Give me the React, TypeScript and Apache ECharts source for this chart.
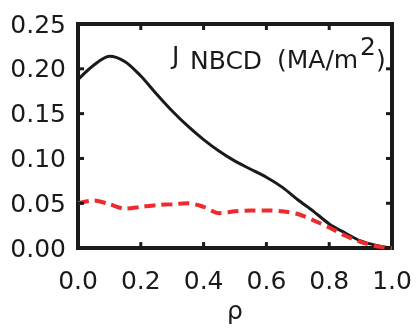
import React, { useEffect, useRef } from "react";
import * as echarts from "echarts";

const rho = [0, 0.05, 0.1, 0.15, 0.2, 0.25, 0.3, 0.35, 0.4, 0.45, 0.5, 0.55, 0.6, 0.65, 0.7, 0.75, 0.8, 0.85, 0.9, 0.95, 1.0];
const jNbcdTotal = [0.188, 0.204, 0.214, 0.208, 0.192, 0.172, 0.153, 0.136, 0.121, 0.108, 0.097, 0.088, 0.079, 0.068, 0.054, 0.041, 0.027, 0.017, 0.008, 0.003, 0.0];
const jNbcdRed = [0.05, 0.053, 0.049, 0.044, 0.046, 0.048, 0.049, 0.05, 0.046, 0.039, 0.041, 0.042, 0.042, 0.041, 0.038, 0.031, 0.023, 0.014, 0.007, 0.002, 0.0];
const xTickValues = [0.2, 0.4, 0.6, 0.8];
const yTickValues = [0.05, 0.1, 0.15, 0.2];
const xTickLabels = ["0.0", "0.2", "0.4", "0.6", "0.8", "1.0"];
const yTickLabels = ["0.00", "0.05", "0.10", "0.15", "0.20", "0.25"];

const FONT = "DejaVu Sans";
const INK = "#1a1a1a";
const X_MIN = 0, X_MAX = 1, Y_MIN = 0, Y_MAX = 0.25;

export default function App() {
  const ref = useRef<HTMLDivElement>(null);
  useEffect(() => {
    if (!ref.current) return;
    const chart = echarts.init(ref.current, undefined, { renderer: "svg" });
    const tickData = [
      ...xTickValues.map((v) => [v, Y_MIN, 0]),
      ...yTickValues.map((v) => [X_MIN, v, 1]),
    ];
    const TL = 6;
    chart.setOption({
      animation: false,
      grid: {
        left: 78, right: 27, top: 24, bottom: 67,
        show: true, borderColor: INK, borderWidth: 4, backgroundColor: "transparent",
      },
      xAxis: {
        type: "value", min: X_MIN, max: X_MAX, interval: 0.2,
        splitLine: { show: false },
        axisLine: { show: false },
        axisTick: { show: false },
        name: "ρ", nameLocation: "middle", nameGap: 44,
        nameTextStyle: { fontFamily: FONT, fontSize: 25, color: INK },
        axisLabel: {
          show: true, margin: 20, fontFamily: FONT, fontSize: 25, color: INK,
          formatter: (v: number) => xTickLabels[Math.round(v / 0.2)] ?? "",
        },
      },
      yAxis: {
        type: "value", min: Y_MIN, max: Y_MAX, interval: 0.05,
        splitLine: { show: false },
        axisLine: { show: false },
        axisTick: { show: false },
        axisLabel: {
          show: true, margin: 12, fontFamily: FONT, fontSize: 25, color: INK,
          formatter: (v: number) => yTickLabels[Math.round(v / 0.05)] ?? "",
        },
      },
      graphic: [
        { type: "text", left: 172, top: 43, style: { text: "J", fontFamily: FONT, fontSize: 25, fill: INK } },
        { type: "text", left: 190, top: 48, style: { text: "NBCD", fontFamily: FONT, fontSize: 25, fill: INK } },
        { type: "text", left: 277, top: 47, style: { text: "(MA/m", fontFamily: FONT, fontSize: 25, fill: INK } },
        { type: "text", left: 360, top: 34, style: { text: "2", fontFamily: FONT, fontSize: 25, fill: INK } },
        { type: "text", left: 376, top: 47, style: { text: ")", fontFamily: FONT, fontSize: 25, fill: INK } },
      ],
      series: [
        {
          type: "line",
          data: rho.map((r, i) => [r, jNbcdTotal[i]]),
          smooth: 0.3, showSymbol: false,
          lineStyle: { color: INK, width: 3 },
        },
        {
          type: "line",
          data: rho.map((r, i) => [r, jNbcdRed[i]]),
          smooth: 0.3, showSymbol: false,
          lineStyle: { color: "#ee2a2e", width: 4, type: [11, 6] },
        },
        {
          type: "custom",
          silent: true,
          clip: false,
          z: 5,
          data: tickData,
          encode: { x: 0, y: 1 },
          renderItem: (params: any, api: any) => {
            const kind = api.value(2);
            const style = { stroke: INK, lineWidth: 3 };
            if (kind === 0) {
              const v = api.value(0);
              const pb = api.coord([v, Y_MIN]);
              const pt = api.coord([v, Y_MAX]);
              return {
                type: "group",
                children: [
                  { type: "line", shape: { x1: pb[0], y1: pb[1], x2: pb[0], y2: pb[1] - TL }, style },
                  { type: "line", shape: { x1: pt[0], y1: pt[1], x2: pt[0], y2: pt[1] + TL }, style },
                ],
              };
            }
            const v = api.value(1);
            const pl = api.coord([X_MIN, v]);
            const pr = api.coord([X_MAX, v]);
            return {
              type: "group",
              children: [
                { type: "line", shape: { x1: pl[0], y1: pl[1], x2: pl[0] + TL, y2: pl[1] }, style },
                { type: "line", shape: { x1: pr[0], y1: pr[1], x2: pr[0] - TL, y2: pr[1] }, style },
              ],
            };
          },
        },
      ],
    });
    return () => chart.dispose();
  }, []);
  return <div ref={ref} style={{ position: "fixed", left: 0, top: 0, width: 419, height: 328 }} />;
}
